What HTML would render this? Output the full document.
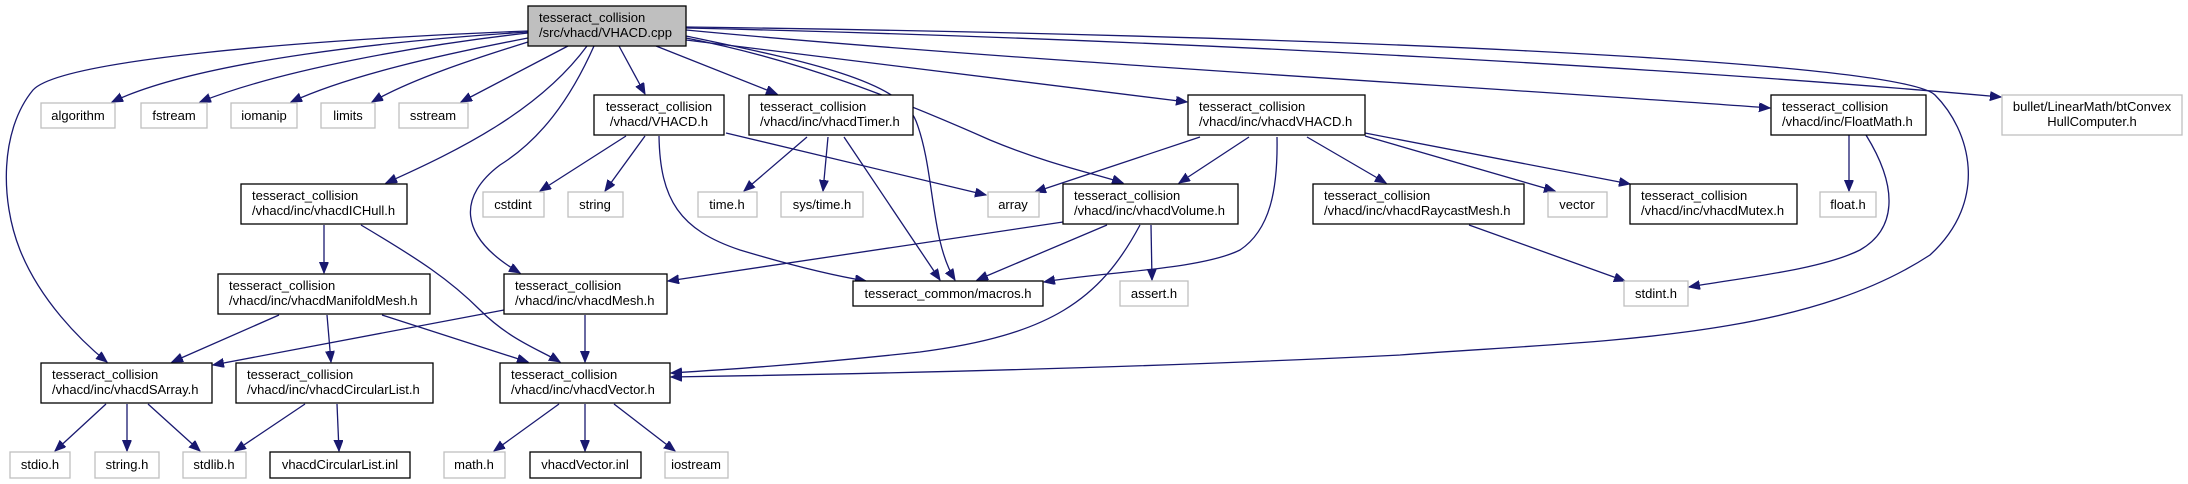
<!DOCTYPE html>
<html><head><meta charset="utf-8"><style>
html,body{margin:0;padding:0;background:#fff;}
svg{display:block}
text{font-family:"Liberation Sans",Arial,sans-serif;font-size:13px;fill:#000}
.e{fill:none;stroke:#191970;stroke-width:1.3}
.b{fill:#fff;stroke:#000;stroke-width:1.3}
.g{fill:#fff;stroke:#bfbfbf;stroke-width:1.3}
</style></head><body>
<svg width="2188" height="484" viewBox="0 0 2188 484" xmlns="http://www.w3.org/2000/svg">
<defs><marker id="a" markerUnits="userSpaceOnUse" markerWidth="12" markerHeight="10" refX="11" refY="4.5" orient="auto"><path d="M0,0 L11,4.5 L0,9 Z" fill="#191970" stroke="#191970"/></marker></defs>
<g marker-end="url(#a)">
<path class="e" d="M528,32 C400,40 200,60 112,102"/>
<path class="e" d="M528,33 C420,45 280,70 200,102"/>
<path class="e" d="M528,38 C440,55 350,75 291,102"/>
<path class="e" d="M528,42 C470,60 410,80 372,102"/>
<path class="e" d="M568,46 L461,102"/>
<path class="e" d="M528,31 C300,40 60,60 33,90 C0,130 0,200 20,250 C40,300 80,340 107,362"/>
<path class="e" d="M587,46 C540,110 460,150 386,183"/>
<path class="e" d="M594,46 C570,100 540,140 500,165 C460,195 455,235 520,273"/>
<path class="e" d="M619,46 L645,94"/>
<path class="e" d="M656,46 L777,94"/>
<path class="e" d="M686,36 C800,60 900,80 916,121 C935,170 930,240 955,280"/>
<path class="e" d="M686,38 C800,60 900,100 990,140 C1050,165 1100,175 1123,183"/>
<path class="e" d="M686,40 L1187,102"/>
<path class="e" d="M686,30 C1000,60 1500,88 1770,108"/>
<path class="e" d="M686,28 C1200,40 1700,70 2001,97"/>
<path class="e" d="M686,27 C1300,35 1900,60 1935,95 C1970,130 1990,200 1930,255 C1800,340 1600,340 1400,355 C1100,370 800,375 671,377"/>
<path class="e" d="M626,136 L540,191"/>
<path class="e" d="M645,136 L605,191"/>
<path class="e" d="M659,136 C660,200 680,230 740,250 C790,265 830,275 866,281"/>
<path class="e" d="M726,133 L986,195"/>
<path class="e" d="M807,137 L744,191"/>
<path class="e" d="M828,137 L823,191"/>
<path class="e" d="M844,137 L940,280"/>
<path class="e" d="M1200,137 L1035,192"/>
<path class="e" d="M1249,137 L1179,183"/>
<path class="e" d="M1277,137 C1278,190 1270,230 1240,250 C1200,270 1100,272 1044,282"/>
<path class="e" d="M1307,137 L1386,183"/>
<path class="e" d="M1365,136 L1555,191"/>
<path class="e" d="M1365,133 L1630,184"/>
<path class="e" d="M1063,222 L668,281"/>
<path class="e" d="M1107,225 L977,280"/>
<path class="e" d="M1140,225 C1100,300 1050,335 920,352 C800,365 720,370 671,373"/>
<path class="e" d="M1151,225 L1152,280"/>
<path class="e" d="M1469,225 L1625,281"/>
<path class="e" d="M1849,135 L1849,191"/>
<path class="e" d="M1866,135 C1900,190 1895,230 1860,250 C1820,270 1740,278 1689,287"/>
<path class="e" d="M324,225 L324,273"/>
<path class="e" d="M361,225 C420,260 450,280 480,310 C510,340 540,350 560,362"/>
<path class="e" d="M279,315 L172,362"/>
<path class="e" d="M327,315 L331,362"/>
<path class="e" d="M382,315 L528,362"/>
<path class="e" d="M504,310 L213,365"/>
<path class="e" d="M585,315 L585,362"/>
<path class="e" d="M106,404 L55,451"/>
<path class="e" d="M127,404 L127,451"/>
<path class="e" d="M148,404 L200,451"/>
<path class="e" d="M305,404 L235,451"/>
<path class="e" d="M337,404 L339,451"/>
<path class="e" d="M559,404 L494,451"/>
<path class="e" d="M585,404 L585,451"/>
<path class="e" d="M614,404 L675,451"/>
</g>
<rect x="528" y="6" width="158" height="40" fill="#bfbfbf" stroke="#000" stroke-width="1.3"/>
<text x="539" y="22">tesseract_collision</text><text x="539" y="37">/src/vhacd/VHACD.cpp</text>

<rect class="g" x="41" y="103" width="74" height="25"/><text x="78" y="120" text-anchor="middle">algorithm</text>
<rect class="g" x="141" y="103" width="66" height="25"/><text x="174" y="120" text-anchor="middle">fstream</text>
<rect class="g" x="231" y="103" width="66" height="25"/><text x="264" y="120" text-anchor="middle">iomanip</text>
<rect class="g" x="321" y="103" width="54" height="25"/><text x="348" y="120" text-anchor="middle">limits</text>
<rect class="g" x="399" y="103" width="69" height="25"/><text x="433" y="120" text-anchor="middle">sstream</text>

<rect class="b" x="594" y="95" width="130" height="40"/><text x="659" y="111" text-anchor="middle">tesseract_collision</text><text x="659" y="126" text-anchor="middle">/vhacd/VHACD.h</text>
<rect class="b" x="749" y="95" width="164" height="40"/><text x="760" y="111">tesseract_collision</text><text x="760" y="126">/vhacd/inc/vhacdTimer.h</text>
<rect class="b" x="1188" y="95" width="177" height="40"/><text x="1199" y="111">tesseract_collision</text><text x="1199" y="126">/vhacd/inc/vhacdVHACD.h</text>
<rect class="b" x="1771" y="95" width="155" height="40"/><text x="1782" y="111">tesseract_collision</text><text x="1782" y="126">/vhacd/inc/FloatMath.h</text>
<rect class="g" x="2002" y="95" width="180" height="40"/><text x="2092" y="111" text-anchor="middle">bullet/LinearMath/btConvex</text><text x="2092" y="126" text-anchor="middle">HullComputer.h</text>

<rect class="b" x="241" y="184" width="166" height="40"/><text x="252" y="200">tesseract_collision</text><text x="252" y="215">/vhacd/inc/vhacdICHull.h</text>
<rect class="g" x="483" y="192" width="61" height="25"/><text x="513" y="209" text-anchor="middle">cstdint</text>
<rect class="g" x="568" y="192" width="55" height="25"/><text x="595" y="209" text-anchor="middle">string</text>
<rect class="g" x="698" y="192" width="59" height="25"/><text x="727" y="209" text-anchor="middle">time.h</text>
<rect class="g" x="781" y="192" width="82" height="25"/><text x="822" y="209" text-anchor="middle">sys/time.h</text>
<rect class="g" x="988" y="192" width="51" height="25"/><text x="1013" y="209" text-anchor="middle">array</text>
<rect class="b" x="1063" y="184" width="175" height="40"/><text x="1074" y="200">tesseract_collision</text><text x="1074" y="215">/vhacd/inc/vhacdVolume.h</text>
<rect class="b" x="1313" y="184" width="211" height="40"/><text x="1324" y="200">tesseract_collision</text><text x="1324" y="215">/vhacd/inc/vhacdRaycastMesh.h</text>
<rect class="g" x="1548" y="192" width="59" height="25"/><text x="1577" y="209" text-anchor="middle">vector</text>
<rect class="b" x="1630" y="184" width="167" height="40"/><text x="1641" y="200">tesseract_collision</text><text x="1641" y="215">/vhacd/inc/vhacdMutex.h</text>
<rect class="g" x="1820" y="192" width="56" height="25"/><text x="1848" y="209" text-anchor="middle">float.h</text>

<rect class="b" x="218" y="274" width="212" height="40"/><text x="229" y="290">tesseract_collision</text><text x="229" y="305">/vhacd/inc/vhacdManifoldMesh.h</text>
<rect class="b" x="504" y="274" width="163" height="40"/><text x="515" y="290">tesseract_collision</text><text x="515" y="305">/vhacd/inc/vhacdMesh.h</text>
<rect class="b" x="853" y="281" width="190" height="25"/><text x="948" y="298" text-anchor="middle">tesseract_common/macros.h</text>
<rect class="g" x="1120" y="281" width="68" height="25"/><text x="1154" y="298" text-anchor="middle">assert.h</text>
<rect class="g" x="1624" y="281" width="64" height="25"/><text x="1656" y="298" text-anchor="middle">stdint.h</text>

<rect class="b" x="41" y="363" width="171" height="40"/><text x="52" y="379">tesseract_collision</text><text x="52" y="394">/vhacd/inc/vhacdSArray.h</text>
<rect class="b" x="236" y="363" width="197" height="40"/><text x="247" y="379">tesseract_collision</text><text x="247" y="394">/vhacd/inc/vhacdCircularList.h</text>
<rect class="b" x="500" y="363" width="170" height="40"/><text x="511" y="379">tesseract_collision</text><text x="511" y="394">/vhacd/inc/vhacdVector.h</text>

<rect class="g" x="10" y="452" width="60" height="26"/><text x="40" y="469" text-anchor="middle">stdio.h</text>
<rect class="g" x="95" y="452" width="64" height="26"/><text x="127" y="469" text-anchor="middle">string.h</text>
<rect class="g" x="183" y="452" width="63" height="26"/><text x="214" y="469" text-anchor="middle">stdlib.h</text>
<rect class="b" x="270" y="452" width="140" height="26"/><text x="340" y="469" text-anchor="middle">vhacdCircularList.inl</text>
<rect class="g" x="444" y="452" width="61" height="26"/><text x="474" y="469" text-anchor="middle">math.h</text>
<rect class="b" x="530" y="452" width="111" height="26"/><text x="585" y="469" text-anchor="middle">vhacdVector.inl</text>
<rect class="g" x="665" y="452" width="63" height="26"/><text x="696" y="469" text-anchor="middle">iostream</text>
</svg>
</body></html>
